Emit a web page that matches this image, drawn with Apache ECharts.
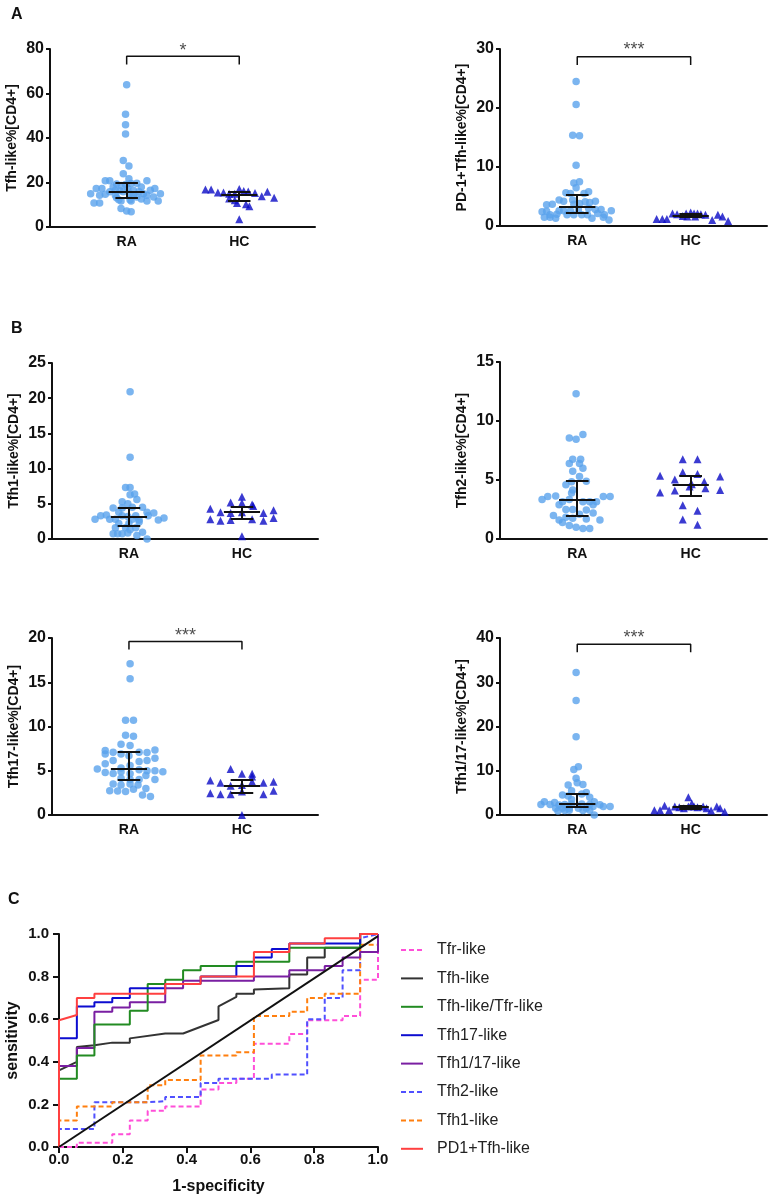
<!DOCTYPE html>
<html><head><meta charset="utf-8">
<script src="https://cdn.jsdelivr.net/npm/echarts@6/dist/echarts.min.js"></script>
<style>html,body{margin:0;padding:0;background:#fff}#c{width:774px;height:1203px}</style>
</head><body><div id="c"></div>
<script>
const FONT = '"Liberation Sans", Arial, Helvetica, sans-serif';
const groups = ['RA', 'HC'];

// Each point: [horizontal jitter (x-axis units), value %]
const tfhRA = [[0,63.9],[-0.01,50.7],[-0.01,45.9],[-0.01,41.8],[-0.03,29.9],[0.02,27.4],[-0.03,23.9],[0.02,21.7],[-0.19,20.8],[-0.15,20.8],[0.18,20.8],[-0.09,19.3],[-0.05,18.6],[-0.01,19.1],[0.04,19.6],[0.09,19.7],[-0.12,18.0],[0.13,18.0],[-0.27,17.3],[-0.22,17.3],[0.01,17.3],[0.25,17.3],[-0.10,16.5],[-0.06,16.3],[0.06,16.5],[0.21,16.5],[-0.15,15.8],[-0.03,15.8],[0.11,15.8],[-0.32,15.0],[-0.19,14.7],[-0.24,14.3],[0.03,15.0],[0.15,15.0],[0.30,15.0],[-0.10,14.3],[0.06,14.3],[0.18,14.3],[-0.09,13.2],[0.09,13.5],[0.24,13.5],[-0.07,12.3],[0.03,12.3],[0.13,12.6],[-0.05,11.7],[0.04,11.7],[0.18,11.7],[0.28,11.7],[-0.29,10.8],[-0.24,10.8],[-0.05,8.3],[0,7.2],[0.04,6.8]];
const tfhHC = [[-0.30,16.8],[-0.25,16.8],[-0.19,15.5],[-0.14,15.5],[-0.09,15.0],[-0.04,15.0],[0,17.1],[0.04,16.2],[0.08,15.9],[0.14,15.3],[0.20,13.8],[0.25,15.8],[0.31,13.2],[-0.09,12.8],[-0.04,12.0],[-0.02,10.8],[0.06,10.2],[0.09,9.3],[0,3.5]];
const pd1RA = [[-0.01,24.5],[-0.01,20.6],[-0.04,15.4],[0.02,15.3],[-0.01,10.3],[-0.03,7.3],[0.02,7.5],[-0.01,6.5],[-0.10,5.65],[-0.06,5.5],[0.06,5.5],[0.10,5.8],[-0.16,4.4],[-0.12,4.2],[-0.04,4.4],[0.16,4.2],[-0.27,3.6],[-0.22,3.7],[-0.03,3.7],[0.02,3.8],[0.07,4.1],[0.11,4.0],[0.10,3.0],[0.16,2.8],[0.21,2.8],[-0.31,2.4],[-0.27,2.5],[-0.16,2.6],[-0.12,2.6],[-0.06,2.6],[0.01,2.8],[0.30,2.6],[-0.24,1.9],[-0.18,2.0],[-0.09,1.9],[-0.03,1.9],[0.04,1.9],[0.09,1.9],[0.18,2.1],[0.24,1.9],[-0.29,1.5],[-0.24,1.5],[-0.19,1.3],[0.13,1.3],[0.23,1.5],[0.28,1.0]];
const pd1HC = [[-0.30,1.2],[-0.25,1.2],[-0.21,1.2],[-0.16,2.1],[-0.12,2.0],[-0.07,1.7],[-0.04,2.1],[0,2.3],[0.03,2.1],[0.06,2.1],[0.09,2.0],[0.13,1.9],[0.19,1.0],[0.24,1.9],[0.28,1.6],[0.33,0.85],[-0.03,1.6],[0.04,1.6]];
const tfh1RA = [[0.01,20.9],[0.01,11.6],[-0.03,7.3],[0.01,7.3],[0.01,6.3],[0.05,6.4],[0.07,5.6],[-0.06,5.3],[-0.01,5.0],[-0.14,4.4],[-0.06,4.4],[0.03,4.5],[0.12,4.5],[-0.09,3.8],[0.16,3.8],[0.22,3.7],[-0.25,3.3],[-0.20,3.4],[-0.06,3.3],[-0.01,3.2],[0.06,3.3],[0.17,3.3],[-0.30,2.8],[-0.17,2.8],[-0.12,2.8],[0.03,2.8],[0.09,2.7],[0.26,2.7],[0.31,3.0],[-0.09,2.2],[0,2.2],[0.09,2.4],[-0.12,1.6],[-0.03,1.6],[0.06,1.6],[0.01,1.3],[-0.14,0.75],[-0.10,0.75],[-0.06,0.75],[-0.01,0.85],[0.12,0.95],[0.07,0.5],[0.16,0.0]];
const tfh1HC = [[0,6.0],[-0.10,5.2],[0,5.1],[0.09,4.9],[-0.28,4.3],[-0.19,3.8],[-0.10,3.7],[0,3.8],[0.19,3.7],[0.28,4.1],[-0.28,2.8],[-0.19,2.6],[-0.10,2.7],[0.09,2.8],[0.19,2.6],[0.28,3.0],[0,0.4],[0.10,4.7]];
const tfh2RA = [[-0.01,12.3],[-0.07,8.55],[-0.01,8.45],[0.05,8.85],[-0.04,6.75],[0.03,6.75],[-0.07,6.4],[0.02,6.4],[0.05,6.0],[-0.04,5.75],[0.02,5.3],[-0.10,4.6],[-0.05,4.85],[0.08,4.9],[-0.04,4.15],[-0.05,3.9],[-0.31,3.35],[-0.26,3.6],[-0.19,3.65],[-0.07,3.35],[0.05,3.15],[0.11,3.15],[0.17,3.15],[0.23,3.6],[0.29,3.6],[-0.16,2.9],[-0.13,3.15],[0.14,2.9],[-0.10,2.5],[-0.04,2.5],[0.08,2.45],[-0.21,2.0],[0.02,2.1],[0.14,2.2],[-0.16,1.6],[-0.10,1.85],[-0.04,1.75],[0.08,1.7],[0.20,1.6],[-0.13,1.4],[-0.07,1.15],[-0.01,1.0],[0.05,0.9],[0.11,0.9]];
const tfh2HC = [[-0.07,6.75],[0.06,6.75],[-0.27,5.35],[-0.07,5.65],[0.06,5.5],[0.26,5.3],[-0.14,5.05],[0.01,4.65],[0.12,4.85],[-0.01,4.45],[0.13,4.3],[-0.27,3.95],[-0.14,4.1],[0.26,4.15],[-0.07,2.85],[0.06,2.4],[-0.07,1.65],[0.06,1.2]];
const tfh17RA = [[0.01,17.1],[0.01,15.4],[-0.03,10.7],[0.04,10.7],[-0.03,9.0],[0.04,8.9],[-0.07,8.0],[0.01,7.85],[-0.21,7.3],[-0.14,7.1],[-0.21,6.9],[-0.07,6.9],[0,6.7],[0.09,7.1],[0.16,7.05],[0.23,7.35],[-0.14,6.15],[0.09,6.05],[0.16,6.15],[0.23,6.4],[-0.21,5.8],[0.01,5.6],[-0.28,5.2],[-0.07,5.3],[0.09,5.1],[0.16,5.0],[0.23,5.0],[0.30,4.9],[-0.21,4.8],[-0.14,4.7],[-0.07,4.9],[0.01,4.65],[0.15,4.45],[-0.07,4.15],[0.01,4.0],[0.09,4.0],[0.23,4.0],[-0.14,3.5],[-0.07,3.4],[0.01,3.5],[0.08,3.4],[0.15,3.0],[-0.17,2.75],[-0.10,2.7],[-0.03,2.65],[0.04,2.9],[0.12,2.25],[0.19,2.1]];
const tfh17HC = [[-0.10,5.2],[0,4.65],[0.09,4.65],[-0.28,3.9],[-0.19,3.65],[-0.10,3.3],[0,3.4],[0.09,3.75],[0.19,3.65],[0.28,3.75],[0.28,2.75],[-0.28,2.45],[-0.19,2.35],[-0.10,2.35],[0,2.65],[0.19,2.35],[0,0.0],[0.09,4.35]];
const tfh117RA = [[-0.01,32.2],[-0.01,25.9],[-0.01,17.7],[-0.03,10.3],[0.01,10.9],[-0.01,8.3],[0,7.3],[0.05,6.9],[-0.08,6.8],[-0.05,5.5],[-0.13,4.5],[-0.08,4.3],[0.08,5.1],[0.04,4.75],[-0.05,3.5],[0.11,4.0],[-0.29,3.0],[-0.20,2.8],[-0.32,2.4],[-0.24,2.4],[-0.16,2.25],[-0.11,2.4],[-0.05,2.5],[0.04,2.5],[0.11,2.35],[0.15,3.0],[-0.19,1.5],[-0.13,1.5],[-0.07,1.5],[0.01,1.5],[0.08,1.5],[0.14,1.9],[0.20,2.3],[0.23,1.9],[0.29,1.9],[-0.17,0.9],[-0.11,1.0],[-0.07,1.1],[0.05,1.0],[0.11,1.1],[0.15,0.0]];
const tfh117HC = [[-0.32,1.1],[-0.27,1.1],[-0.23,2.1],[-0.19,1.1],[-0.14,1.9],[-0.10,1.75],[-0.06,1.5],[-0.02,4.0],[-0.02,1.9],[0.01,2.6],[0.03,1.9],[0.06,1.75],[0.11,1.9],[0.14,1.5],[0.18,1.0],[0.23,1.9],[0.26,1.5],[0.30,0.75]];

// [Q1, median, Q3]
const tfhStat = {RA:[13.1,16.0,19.8], HC:[12.0,14.6,15.9]};
const pd1Stat = {RA:[2.3,3.2,5.3], HC:[1.5,1.8,2.1]};
const tfh1Stat = {RA:[1.95,3.2,4.5], HC:[2.9,3.8,4.6]};
const tfh2Stat = {RA:[2.0,3.35,4.95], HC:[3.7,4.6,5.4]};
const tfh17Stat = {RA:[4.0,5.25,7.15], HC:[2.55,3.35,4.0]};
const tfh117Stat = {RA:[1.9,2.5,4.9], HC:[1.5,1.8,2.2]};

// ROC curves: [1-specificity, sensitivity]
const rocNames = ['Tfr-like','Tfh-like','Tfh-like/Tfr-like','Tfh17-like','Tfh1/17-like','Tfh2-like','Tfh1-like','PD1+Tfh-like'];
const rocTfr = [[0,0],[0.056,0],[0.056,0.02],[0.167,0.02],[0.167,0.06],[0.222,0.06],[0.222,0.125],[0.278,0.125],[0.278,0.17],[0.333,0.17],[0.333,0.19],[0.444,0.19],[0.444,0.27],[0.5,0.27],[0.5,0.30],[0.556,0.30],[0.556,0.32],[0.611,0.32],[0.611,0.485],[0.722,0.485],[0.722,0.53],[0.778,0.53],[0.778,0.595],[0.889,0.595],[0.889,0.615],[0.944,0.615],[0.944,0.785],[1,0.785],[1,1]];
const rocTfh = [[0,0],[0,0.36],[0.056,0.40],[0.056,0.47],[0.111,0.478],[0.167,0.49],[0.222,0.49],[0.222,0.51],[0.333,0.533],[0.389,0.533],[0.5,0.596],[0.5,0.66],[0.556,0.705],[0.556,0.72],[0.611,0.72],[0.611,0.74],[0.722,0.745],[0.722,0.81],[0.778,0.81],[0.778,0.89],[0.833,0.89],[0.833,0.935],[0.944,0.935],[0.944,1],[1,1]];
const rocRatio = [[0,0],[0,0.32],[0.056,0.32],[0.056,0.43],[0.111,0.43],[0.111,0.575],[0.222,0.575],[0.222,0.64],[0.278,0.64],[0.278,0.765],[0.333,0.765],[0.333,0.785],[0.389,0.785],[0.389,0.83],[0.444,0.83],[0.444,0.85],[0.556,0.85],[0.556,0.87],[0.722,0.87],[0.722,0.935],[0.944,0.935],[0.944,1],[1,1]];
const rocTfh17 = [[0,0],[0,0.51],[0.056,0.51],[0.056,0.66],[0.111,0.66],[0.111,0.68],[0.167,0.68],[0.167,0.70],[0.222,0.70],[0.222,0.745],[0.333,0.745],[0.333,0.765],[0.444,0.765],[0.444,0.80],[0.556,0.80],[0.556,0.85],[0.611,0.85],[0.611,0.89],[0.667,0.89],[0.667,0.93],[0.722,0.93],[0.722,0.955],[0.944,0.955],[0.944,1],[1,1]];
const rocTfh117 = [[0,0],[0,0.38],[0.056,0.38],[0.056,0.465],[0.111,0.465],[0.111,0.635],[0.167,0.635],[0.167,0.655],[0.222,0.655],[0.222,0.68],[0.333,0.68],[0.333,0.745],[0.389,0.745],[0.389,0.78],[0.611,0.78],[0.611,0.80],[0.722,0.80],[0.722,0.83],[0.833,0.83],[0.833,0.85],[0.889,0.85],[0.889,0.89],[0.944,0.89],[0.944,0.915],[1,0.915],[1,1]];
const rocTfh2 = [[0,0],[0,0.085],[0.111,0.085],[0.111,0.21],[0.278,0.21],[0.278,0.215],[0.333,0.215],[0.333,0.235],[0.444,0.235],[0.444,0.30],[0.5,0.30],[0.5,0.32],[0.667,0.32],[0.667,0.34],[0.778,0.34],[0.778,0.60],[0.833,0.60],[0.833,0.70],[0.889,0.70],[0.889,0.83],[0.944,0.83],[0.944,0.98],[1,1]];
const rocTfh1 = [[0,0],[0,0.125],[0.056,0.125],[0.056,0.19],[0.167,0.19],[0.167,0.21],[0.278,0.21],[0.278,0.29],[0.333,0.29],[0.333,0.315],[0.444,0.315],[0.444,0.43],[0.556,0.43],[0.556,0.445],[0.611,0.445],[0.611,0.615],[0.722,0.615],[0.722,0.635],[0.778,0.635],[0.778,0.70],[0.833,0.70],[0.833,0.72],[0.944,0.72],[0.944,0.95],[1,0.95],[1,1]];
const rocPd1 = [[0,0],[0,0.595],[0.056,0.62],[0.056,0.70],[0.111,0.70],[0.111,0.72],[0.333,0.72],[0.333,0.765],[0.444,0.765],[0.444,0.80],[0.611,0.80],[0.611,0.915],[0.722,0.915],[0.722,0.955],[0.833,0.955],[0.833,0.98],[0.944,0.98],[0.944,1],[1,1]];
const rocChance = [[0,0],[1,0.99]];

const panels = [
  {name:'Tfh-like%[CD4+]', ra:tfhRA, hc:tfhHC, st:tfhStat, max:80, step:20, sig:'*', br:[73,76.7,78.9], g:{left:50,top:49,width:265,height:178}},
  {name:'PD-1+Tfh-like%[CD4+]', ra:pd1RA, hc:pd1HC, st:pd1Stat, max:30, step:10, sig:'***', br:[27.3,28.7,29.8], g:{left:500,top:49,width:267,height:177}},
  {name:'Tfh1-like%[CD4+]', ra:tfh1RA, hc:tfh1HC, st:tfh1Stat, max:25, step:5, sig:null, g:{left:52,top:363,width:266,height:176}},
  {name:'Tfh2-like%[CD4+]', ra:tfh2RA, hc:tfh2HC, st:tfh2Stat, max:15, step:5, sig:null, g:{left:500,top:362,width:267,height:177}},
  {name:'Tfh17-like%[CD4+]', ra:tfh17RA, hc:tfh17HC, st:tfh17Stat, max:20, step:5, sig:'***', br:[18.7,19.6,20.25], g:{left:52,top:638,width:266,height:177}},
  {name:'Tfh1/17-like%[CD4+]', ra:tfh117RA, hc:tfh117HC, st:tfh117Stat, max:40, step:10, sig:'***', br:[36.8,38.6,39.95], g:{left:500,top:638,width:267,height:177}}
];

const grid = [], xAxis = [], yAxis = [], series = [];
const black = '#111';
panels.forEach((p, i) => {
  grid.push(p.g);
  xAxis.push({gridIndex:i, type:'value', min:0.319, max:2.673,
    axisLine:{onZero:false, lineStyle:{color:black, width:2}}, axisTick:{show:false}, splitLine:{show:false},
    axisLabel:{customValues:[1,2], formatter:v => groups[Math.round(v)-1] || '', fontWeight:'bold', fontSize:14, color:black, fontFamily:FONT, margin:8}});
  yAxis.push({gridIndex:i, type:'value', min:0, max:p.max, interval:p.step,
    name:p.name, nameLocation:'middle', nameGap:31,
    nameTextStyle:{fontWeight:'bold', fontSize:14, color:black, fontFamily:FONT},
    axisLine:{show:true, onZero:false, lineStyle:{color:black, width:2}},
    axisTick:{show:true, length:4, lineStyle:{color:black, width:2}},
    axisLabel:{fontWeight:'bold', fontSize:16, color:black, fontFamily:FONT, margin:6},
    splitLine:{show:false}});
  series.push({type:'scatter', xAxisIndex:i, yAxisIndex:i, symbol:'circle', symbolSize:7.5,
    itemStyle:{color:'#5aa2ec'}, data:p.ra.map(d => [1 + d[0], d[1]]), z:2});
  series.push({type:'scatter', xAxisIndex:i, yAxisIndex:i, symbol:'triangle', symbolSize:8,
    itemStyle:{color:'#0a0ac6'}, data:p.hc.map(d => [2 + d[0], d[1]]), z:2});
  const segs = [];
  groups.forEach((gname, gi) => {
    const c = gi + 1, s = p.st[gname];
    segs.push({coords:[[c-0.16, s[1]], [c+0.16, s[1]]]});
    segs.push({coords:[[c, s[0]], [c, s[2]]]});
    segs.push({coords:[[c-0.1, s[0]], [c+0.1, s[0]]]});
    segs.push({coords:[[c-0.1, s[2]], [c+0.1, s[2]]]});
  });
  series.push({type:'lines', coordinateSystem:'cartesian2d', xAxisIndex:i, yAxisIndex:i, silent:true,
    lineStyle:{color:black, width:2, opacity:1}, data:segs, z:5});
  if (p.sig) {
    series.push({type:'line', xAxisIndex:i, yAxisIndex:i, symbol:'none', silent:true, clip:false,
      lineStyle:{color:black, width:1.5}, data:[[1,p.br[0]],[1,p.br[1]],[2,p.br[1]],[2,p.br[0]]], z:5});
    series.push({type:'scatter', xAxisIndex:i, yAxisIndex:i, symbolSize:1, itemStyle:{color:'rgba(0,0,0,0)'}, clip:false, silent:true,
      data:[[1.5, p.br[2]]],
      label:{show:true, position:'inside', formatter:p.sig, fontSize:18, color:'#222', fontFamily:FONT}});
  }
});

// ROC panel
const ci = panels.length;
grid.push({left:59, top:934, width:319, height:213});
xAxis.push({gridIndex:ci, type:'value', min:0, max:1, interval:0.2,
  name:'1-specificity', nameLocation:'middle', nameGap:32,
  nameTextStyle:{fontWeight:'bold', fontSize:16, color:black, fontFamily:FONT},
  axisLine:{onZero:false, lineStyle:{color:black, width:2}}, axisTick:{show:true, length:6, lineStyle:{color:black, width:2}},
  splitLine:{show:false},
  axisLabel:{formatter:v => v.toFixed(1), fontWeight:'bold', fontSize:15, color:black, fontFamily:FONT, margin:5}});
yAxis.push({gridIndex:ci, type:'value', min:0, max:1, interval:0.2,
  name:'sensitivity', nameLocation:'middle', nameGap:38,
  nameTextStyle:{fontWeight:'bold', fontSize:16, color:black, fontFamily:FONT},
  axisLine:{show:true, onZero:false, lineStyle:{color:black, width:2}}, axisTick:{show:true, length:6, lineStyle:{color:black, width:2}},
  splitLine:{show:false},
  axisLabel:{formatter:v => v.toFixed(1), fontWeight:'bold', fontSize:15, color:black, fontFamily:FONT, margin:10}});

const rocSeries = [
  {name:'Tfr-like', data:rocTfr, color:'#ff4fd8', dash:true},
  {name:'Tfh2-like', data:rocTfh2, color:'#5050ff', dash:true},
  {name:'Tfh1-like', data:rocTfh1, color:'#ff7f0e', dash:true},
  {name:'Tfh-like', data:rocTfh, color:'#333333', dash:false},
  {name:'Tfh1/17-like', data:rocTfh117, color:'#7a1fa2', dash:false},
  {name:'Tfh-like/Tfr-like', data:rocRatio, color:'#228b22', dash:false},
  {name:'Tfh17-like', data:rocTfh17, color:'#0d0dd0', dash:false},
  {name:'PD1+Tfh-like', data:rocPd1, color:'#ff4040', dash:false}
];
rocSeries.forEach(r => {
  series.push({type:'line', name:r.name, xAxisIndex:ci, yAxisIndex:ci, symbol:'none', showSymbol:false, silent:true,
    color:r.color, lineStyle:{color:r.color, width:2, type:r.dash ? [5,3] : 'solid'}, data:r.data, z:3});
});
series.push({type:'line', xAxisIndex:ci, yAxisIndex:ci, symbol:'none', silent:true,
  lineStyle:{color:black, width:2}, data:rocChance, z:4});

const option = {
  animation:false,
  textStyle:{fontFamily:FONT},
  grid, xAxis, yAxis, series,
  legend:{data:rocNames, orient:'vertical', left:400, top:942, padding:0, itemWidth:22, itemHeight:14, itemGap:12.4,
    selectedMode:false, itemStyle:{opacity:0},
    textStyle:{fontSize:16, color:'#222', fontFamily:FONT, padding:[0,0,0,9]}},
  graphic:[
    {type:'text', left:11, top:7, style:{text:'A', font:'bold 16px ' + FONT, fill:black}},
    {type:'text', left:11, top:321, style:{text:'B', font:'bold 16px ' + FONT, fill:black}},
    {type:'text', left:8, top:892, style:{text:'C', font:'bold 16px ' + FONT, fill:black}}
  ]
};
const chart = echarts.init(document.getElementById('c'), null, {renderer:'canvas'});
chart.setOption(option);
</script>
</body></html>
